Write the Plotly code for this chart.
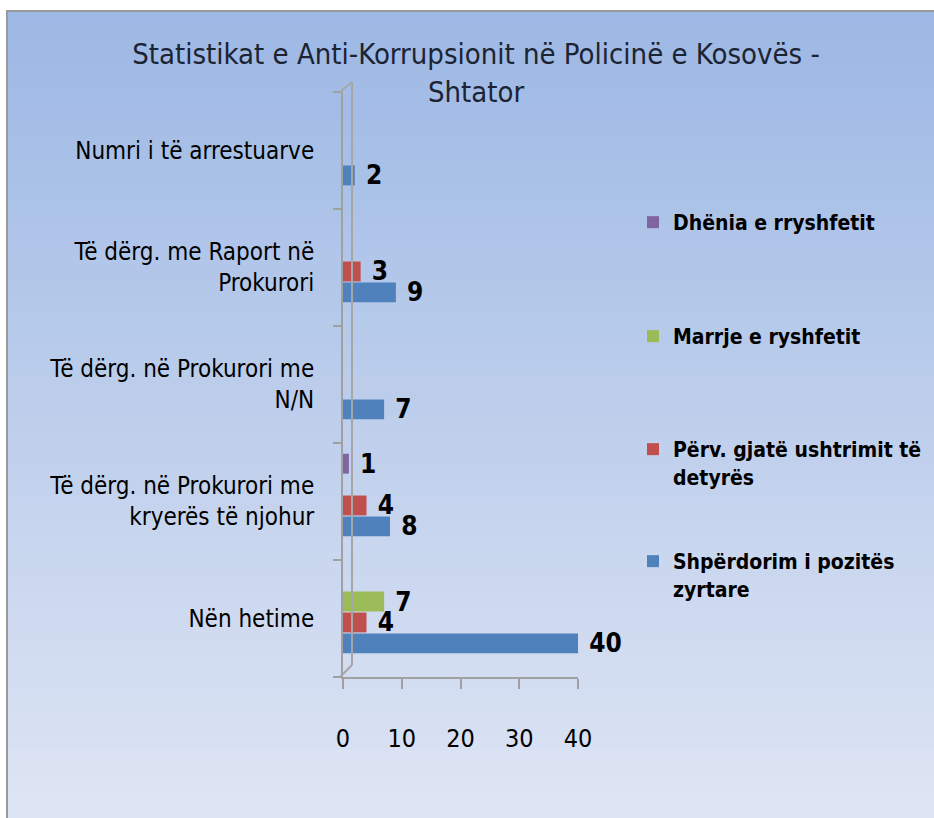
import plotly.graph_objects as go

# ---------------- data ----------------
categories = [
    "Nën hetime",
    "Të dërg. në Prokurori me<br>kryerës të njohur",
    "Të dërg. në Prokurori me<br>N/N",
    "Të dërg. me Raport në<br>Prokurori",
    "Numri i të arrestuarve",
]
series_names = [
    "Shpërdorim i pozitës<br>zyrtare",
    "Përv. gjatë ushtrimit të<br>detyrës",
    "Marrje e ryshfetit",
    "Dhënia e rryshfetit",
]
shperdorim = [40, 8, 7, 9, 2]
perv = [4, 4, 0, 3, 0]
marrje = [7, 0, 0, 0, 0]
dhenia = [0, 1, 0, 0, 0]
x_ticks = [0, 10, 20, 30, 40]
title_text = "Statistikat e Anti-Korrupsionit në Policinë e Kosovës -<br>Shtator"

# ---------------- styling ----------------
W, H = 934, 818
ML, MR, MT, MB = 343, 356, 92, 141
PW = W - ML - MR
PH = H - MT - MB
FONT = "DejaVu Sans Condensed, Liberation Sans Narrow, sans-serif"
colors = ["#4f81bd", "#c0504d", "#9bbb59", "#8064a2"]
offsets = [-0.298, -0.119, 0.06, 0.238]
legend_centers = [562, 450, 337, 223]  # pixel y of first legend line
legend_keys = ["legend4", "legend3", "legend2", "legend"]


def px_to_paper_x(px):
    return (px - ML) / PW


def px_to_paper_y(py):
    return (H - MB - py) / PH


fig = go.Figure()
all_vals = [shperdorim, perv, marrje, dhenia]
for i, (name, vals) in enumerate(zip(series_names, all_vals)):
    fig.add_trace(go.Bar(
        y=categories,
        x=vals,
        name=name,
        orientation="h",
        width=0.17,
        offset=offsets[i],
        marker=dict(color=colors[i], line=dict(width=0)),
        text=["\u00a0" + str(v) if v else "" for v in vals],
        textposition="outside",
        constraintext="none",
        cliponaxis=False,
        textfont=dict(family=FONT, size=26, color="black", weight="bold"),
        legend=legend_keys[i],
        hoverinfo="x+y+name",
    ))

# gradient background built from thin strips
shapes = []
N = 60
top_c = (157, 184, 228)
bot_c = (222, 229, 244)
y0px, y1px = 11, H
for k in range(N):
    t = k / (N - 1)
    c = tuple(round(top_c[j] + (bot_c[j] - top_c[j]) * t) for j in range(3))
    ya = y0px + (y1px - y0px) * k / N
    yb = y0px + (y1px - y0px) * (k + 1) / N + 1
    shapes.append(dict(
        type="rect", xref="paper", yref="paper", layer="below",
        x0=px_to_paper_x(8), x1=px_to_paper_x(W + 2),
        y0=px_to_paper_y(yb), y1=px_to_paper_y(ya),
        fillcolor="rgb(%d,%d,%d)" % c, line=dict(width=0),
    ))
# frame border (left and top)
shapes.append(dict(type="line", xref="paper", yref="paper",
                   x0=px_to_paper_x(7), x1=px_to_paper_x(7),
                   y0=px_to_paper_y(H), y1=px_to_paper_y(10),
                   line=dict(color="#9a9a9a", width=2)))
shapes.append(dict(type="line", xref="paper", yref="paper",
                   x0=px_to_paper_x(7), x1=px_to_paper_x(W),
                   y0=px_to_paper_y(11), y1=px_to_paper_y(11),
                   line=dict(color="#9a9a9a", width=2)))
# 3D back wall lines
wall = "#a6a6a6"
shapes.append(dict(type="line", xref="paper", yref="paper",
                   x0=px_to_paper_x(352), x1=px_to_paper_x(352),
                   y0=px_to_paper_y(665), y1=px_to_paper_y(82),
                   line=dict(color=wall, width=2)))
shapes.append(dict(type="line", xref="paper", yref="paper",
                   x0=px_to_paper_x(340), x1=px_to_paper_x(352),
                   y0=px_to_paper_y(92), y1=px_to_paper_y(82),
                   line=dict(color=wall, width=2)))
shapes.append(dict(type="line", xref="paper", yref="paper",
                   x0=px_to_paper_x(340), x1=px_to_paper_x(352),
                   y0=px_to_paper_y(677), y1=px_to_paper_y(665),
                   line=dict(color=wall, width=2)))

layout_legends = {}
for key, cy in zip(legend_keys, legend_centers):
    layout_legends[key] = dict(
        x=px_to_paper_x(633), xanchor="left",
        y=px_to_paper_y(cy - 21), yanchor="top",
        bgcolor="rgba(0,0,0,0)", borderwidth=0,
        font=dict(family=FONT, size=21, color="black", weight="bold"),
        valign="top", itemclick=False, itemdoubleclick=False,
    )

fig.update_layout(
    width=W, height=H,
    margin=dict(l=ML, r=MR, t=MT, b=MB, autoexpand=False),
    paper_bgcolor="white",
    plot_bgcolor="rgba(0,0,0,0)",
    barmode="overlay",
    showlegend=True,
    title=dict(
        text=title_text,
        x=px_to_paper_x(476), xanchor="center", xref="paper",
        y=1 - 64 / H, yanchor="middle",
        font=dict(family=FONT, size=29, color="#1c2433"),
    ),
    shapes=shapes,
    xaxis=dict(
        range=[0, 40],
        tickvals=x_ticks,
        ticktext=[str(v) for v in x_ticks],
        showgrid=False, zeroline=False,
        showline=True, linecolor="#a0a0a0", linewidth=2,
        ticks="outside", ticklen=10, tickwidth=2, tickcolor="#a0a0a0",
        ticklabelstandoff=28,
        tickfont=dict(family=FONT, size=25, color="black"),
        fixedrange=True,
    ),
    yaxis=dict(
        type="category",
        categoryorder="array", categoryarray=categories,
        range=[-0.5, 4.5],
        showgrid=False, zeroline=False,
        showline=True, linecolor="#a0a0a0", linewidth=2,
        ticks="outside", tickson="boundaries", ticklen=8, tickwidth=2,
        tickcolor="#a0a0a0",
        ticklabelstandoff=22,
        tickfont=dict(family=FONT, size=24, color="black"),
        fixedrange=True,
    ),
    **layout_legends,
)

fig.write_html(
    "out.html",
    config={"displayModeBar": False},
    post_script="document.body.style.margin='0';document.body.style.overflow='hidden';",
)
